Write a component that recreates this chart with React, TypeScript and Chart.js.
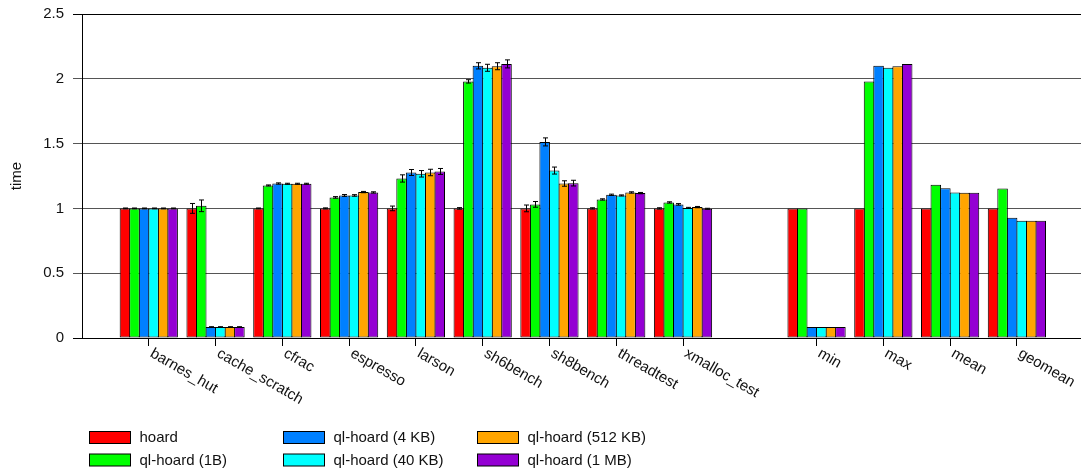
import React, { useEffect, useRef } from "react";
import { Chart, registerables } from "chart.js";

Chart.register(...registerables);

// Benchmarks, an empty spacer slot, then the summary rows
const CATEGORIES = [
  "barnes_hut", "cache_scratch", "cfrac", "espresso", "larson",
  "sh6bench", "sh8bench", "threadtest", "xmalloc_test",
  "",
  "min", "max", "mean", "geomean",
];

const SERIES_NAMES = [
  "hoard", "ql-hoard (1B)", "ql-hoard (4 KB)",
  "ql-hoard (40 KB)", "ql-hoard (512 KB)", "ql-hoard (1 MB)",
];

const SERIES_COLORS = ["#ff0000", "#00ff00", "#0080ff", "#00ffff", "#ffa500", "#9400d3"];

// normalised run time per benchmark (null = spacer)
const HOARD = [1.0, 1.0, 1.0, 1.0, 1.0, 1.0, 1.0, 1.0, 1.0, null, 1.0, 1.0, 1.0, 1.0];
const QL_1B = [1.0, 1.02, 1.177, 1.085, 1.231, 1.98, 1.031, 1.069, 1.046, null, 1.0, 1.98, 1.182, 1.154];
const QL_4KB = [1.0, 0.085, 1.192, 1.1, 1.277, 2.1, 1.513, 1.105, 1.031, null, 0.085, 2.1, 1.156, 0.928];
const QL_40KB = [1.0, 0.085, 1.19, 1.1, 1.267, 2.085, 1.292, 1.1, 1.004, null, 0.085, 2.085, 1.123, 0.905];
const QL_512KB = [1.0, 0.085, 1.19, 1.126, 1.277, 2.097, 1.192, 1.123, 1.01, null, 0.085, 2.097, 1.12, 0.905];
const QL_1MB = [1.0, 0.085, 1.19, 1.123, 1.285, 2.115, 1.195, 1.118, 0.997, null, 0.085, 2.115, 1.12, 0.905];

// half-width of the error bar for each value
const HOARD_ERR = [0.003, 0.038, 0.003, 0.004, 0.018, 0.006, 0.026, 0.005, 0.005, null, 0, 0, 0, 0];
const QL_1B_ERR = [0.003, 0.045, 0.004, 0.006, 0.028, 0.013, 0.022, 0.005, 0.005, null, 0, 0, 0, 0];
const QL_4KB_ERR = [0.003, 0.002, 0.005, 0.007, 0.023, 0.024, 0.031, 0.005, 0.006, null, 0, 0, 0, 0];
const QL_40KB_ERR = [0.003, 0.002, 0.004, 0.006, 0.025, 0.027, 0.027, 0.004, 0.004, null, 0, 0, 0, 0];
const QL_512KB_ERR = [0.003, 0.002, 0.004, 0.005, 0.025, 0.027, 0.021, 0.005, 0.005, null, 0, 0, 0, 0];
const QL_1MB_ERR = [0.003, 0.002, 0.004, 0.005, 0.023, 0.031, 0.022, 0.005, 0.004, null, 0, 0, 0, 0];

const SERIES_VALUES = [HOARD, QL_1B, QL_4KB, QL_40KB, QL_512KB, QL_1MB];
const SERIES_ERRORS = [HOARD_ERR, QL_1B_ERR, QL_4KB_ERR, QL_40KB_ERR, QL_512KB_ERR, QL_1MB_ERR];

const Y_TICKS = [0, 0.5, 1, 1.5, 2, 2.5];
const Y_TICK_LABELS = ["0", "0.5", "1", "1.5", "2", "2.5"];
const Y_TITLE = "time";

const FONT = '"Liberation Sans", Arial, sans-serif';
const TEXT = "#111";

// category slot i sits at x = i + 1 on the linear axis
const slotX = (i: number) => i + 1;
const TICK_POSITIONS = CATEGORIES.map((c, i) => (c ? slotX(i) : null)).filter((v) => v !== null) as number[];

const overlayPlugin = {
  id: "overlay",
  afterDatasetsDraw(chart: any) {
    const { ctx } = chart;
    const y = chart.scales.y;
    ctx.save();
    ctx.strokeStyle = "#000";
    ctx.lineWidth = 1;
    chart.data.datasets.forEach((ds: any, di: number) => {
      const meta = chart.getDatasetMeta(di);
      meta.data.forEach((el: any, j: number) => {
        const pt = ds.data[j];
        if (!pt || !pt.err) return;
        const x = Math.round(el.x) + 0.5;
        const top = y.getPixelForValue(pt.y + pt.err);
        const bot = y.getPixelForValue(pt.y - pt.err);
        ctx.beginPath();
        ctx.moveTo(x, top);
        ctx.lineTo(x, bot);
        ctx.moveTo(x - 2.5, top);
        ctx.lineTo(x + 2.5, top);
        ctx.moveTo(x - 2.5, bot);
        ctx.lineTo(x + 2.5, bot);
        ctx.stroke();
      });
    });
    ctx.restore();
  },
  afterDraw(chart: any) {
    const { ctx, chartArea } = chart;
    const xs = chart.scales.x;
    ctx.save();
    ctx.fillStyle = TEXT;
    ctx.font = `15px ${FONT}`;

    // rotated category labels
    CATEGORIES.forEach((label, i) => {
      if (!label) return;
      const px = xs.getPixelForValue(slotX(i));
      ctx.save();
      ctx.translate(px + 0.5, chartArea.bottom + 18);
      ctx.rotate(Math.PI / 6);
      ctx.textAlign = "left";
      ctx.textBaseline = "alphabetic";
      ctx.fillText(label, 0, 0);
      ctx.restore();
    });

    // y axis title
    ctx.save();
    ctx.translate(16.5, (chartArea.top + chartArea.bottom) / 2);
    ctx.rotate(-Math.PI / 2);
    ctx.textAlign = "center";
    ctx.textBaseline = "middle";
    ctx.fillText(Y_TITLE, 0, 0);
    ctx.restore();

    // legend: three columns, two rows, filled column by column
    const colX = [89.5, 283.5, 477.5];
    const rowY = [437.5, 460];
    SERIES_NAMES.forEach((name, k) => {
      const cx = colX[Math.floor(k / 2)];
      const cy = rowY[k % 2];
      ctx.fillStyle = SERIES_COLORS[k];
      ctx.fillRect(cx, cy - 6, 41, 12);
      ctx.strokeStyle = "#000";
      ctx.lineWidth = 1;
      ctx.strokeRect(cx, cy - 6, 41, 12);
      ctx.fillStyle = TEXT;
      ctx.textAlign = "left";
      ctx.textBaseline = "middle";
      ctx.fillText(name, cx + 50, cy + 0.5);
    });
    ctx.restore();
  },
};

export default function App() {
  const ref = useRef<HTMLCanvasElement>(null);

  useEffect(() => {
    const datasets = SERIES_NAMES.map((name, k) => ({
      label: name,
      data: CATEGORIES.map((c, i) =>
        c && SERIES_VALUES[k][i] !== null
          ? { x: slotX(i), y: SERIES_VALUES[k][i], err: SERIES_ERRORS[k][i] }
          : null
      ).filter((p) => p !== null),
      backgroundColor: SERIES_COLORS[k],
      borderColor: "#000",
      borderWidth: 1,
      borderSkipped: false,
      categoryPercentage: 6 / 7,
      barPercentage: 1.105,
    }));

    const chart = new Chart(ref.current as HTMLCanvasElement, {
      type: "bar",
      data: { datasets } as any,
      plugins: [overlayPlugin],
      options: {
        responsive: false,
        animation: false,
        devicePixelRatio: 1,
        layout: { padding: { top: 14, right: 0, bottom: 0, left: 0 } },
        plugins: { legend: { display: false }, tooltip: { enabled: false } },
        scales: {
          x: {
            type: "linear",
            min: 0,
            max: 14.96,
            offset: false,
            grid: {
              offset: false,
              drawOnChartArea: false,
              drawTicks: true,
              tickLength: 8,
              color: "#000",
              lineWidth: 1,
            },
            border: { display: true, color: "#000", width: 1 },
            ticks: { display: false },
            afterBuildTicks: (s: any) => {
              s.ticks = TICK_POSITIONS.map((v) => ({ value: v }));
            },
            afterFit: (s: any) => {
              s.height = 136;
              s.paddingLeft = 0;
              s.paddingRight = 0;
            },
          },
          y: {
            min: 0,
            max: 2.5,
            afterBuildTicks: (s: any) => {
              s.ticks = Y_TICKS.map((v) => ({ value: v }));
            },
            ticks: {
              padding: 9,
              color: TEXT,
              font: { family: FONT, size: 15 },
              callback: (v: any) => {
                const k = Y_TICKS.indexOf(Number(v));
                return k >= 0 ? Y_TICK_LABELS[k] : String(v);
              },
            },
            grid: {
              color: (c: any) => (c.tick && (c.tick.value === 2.5 || c.tick.value === 0) ? "#000" : "#555"),
              tickLength: 9,
              lineWidth: 1,
            },
            border: { display: true, color: "#000", width: 1 },
            afterFit: (s: any) => {
              s.width = 82;
              s.paddingTop = 0;
              s.paddingBottom = 0;
            },
          },
        },
      } as any,
    });
    return () => chart.destroy();
  }, []);

  return (
    <div style={{ position: "fixed", left: 0, top: 0, width: 1081, height: 474, background: "#fff" }}>
      <canvas ref={ref} width={1081} height={474} style={{ display: "block", width: 1081, height: 474 }} />
    </div>
  );
}
